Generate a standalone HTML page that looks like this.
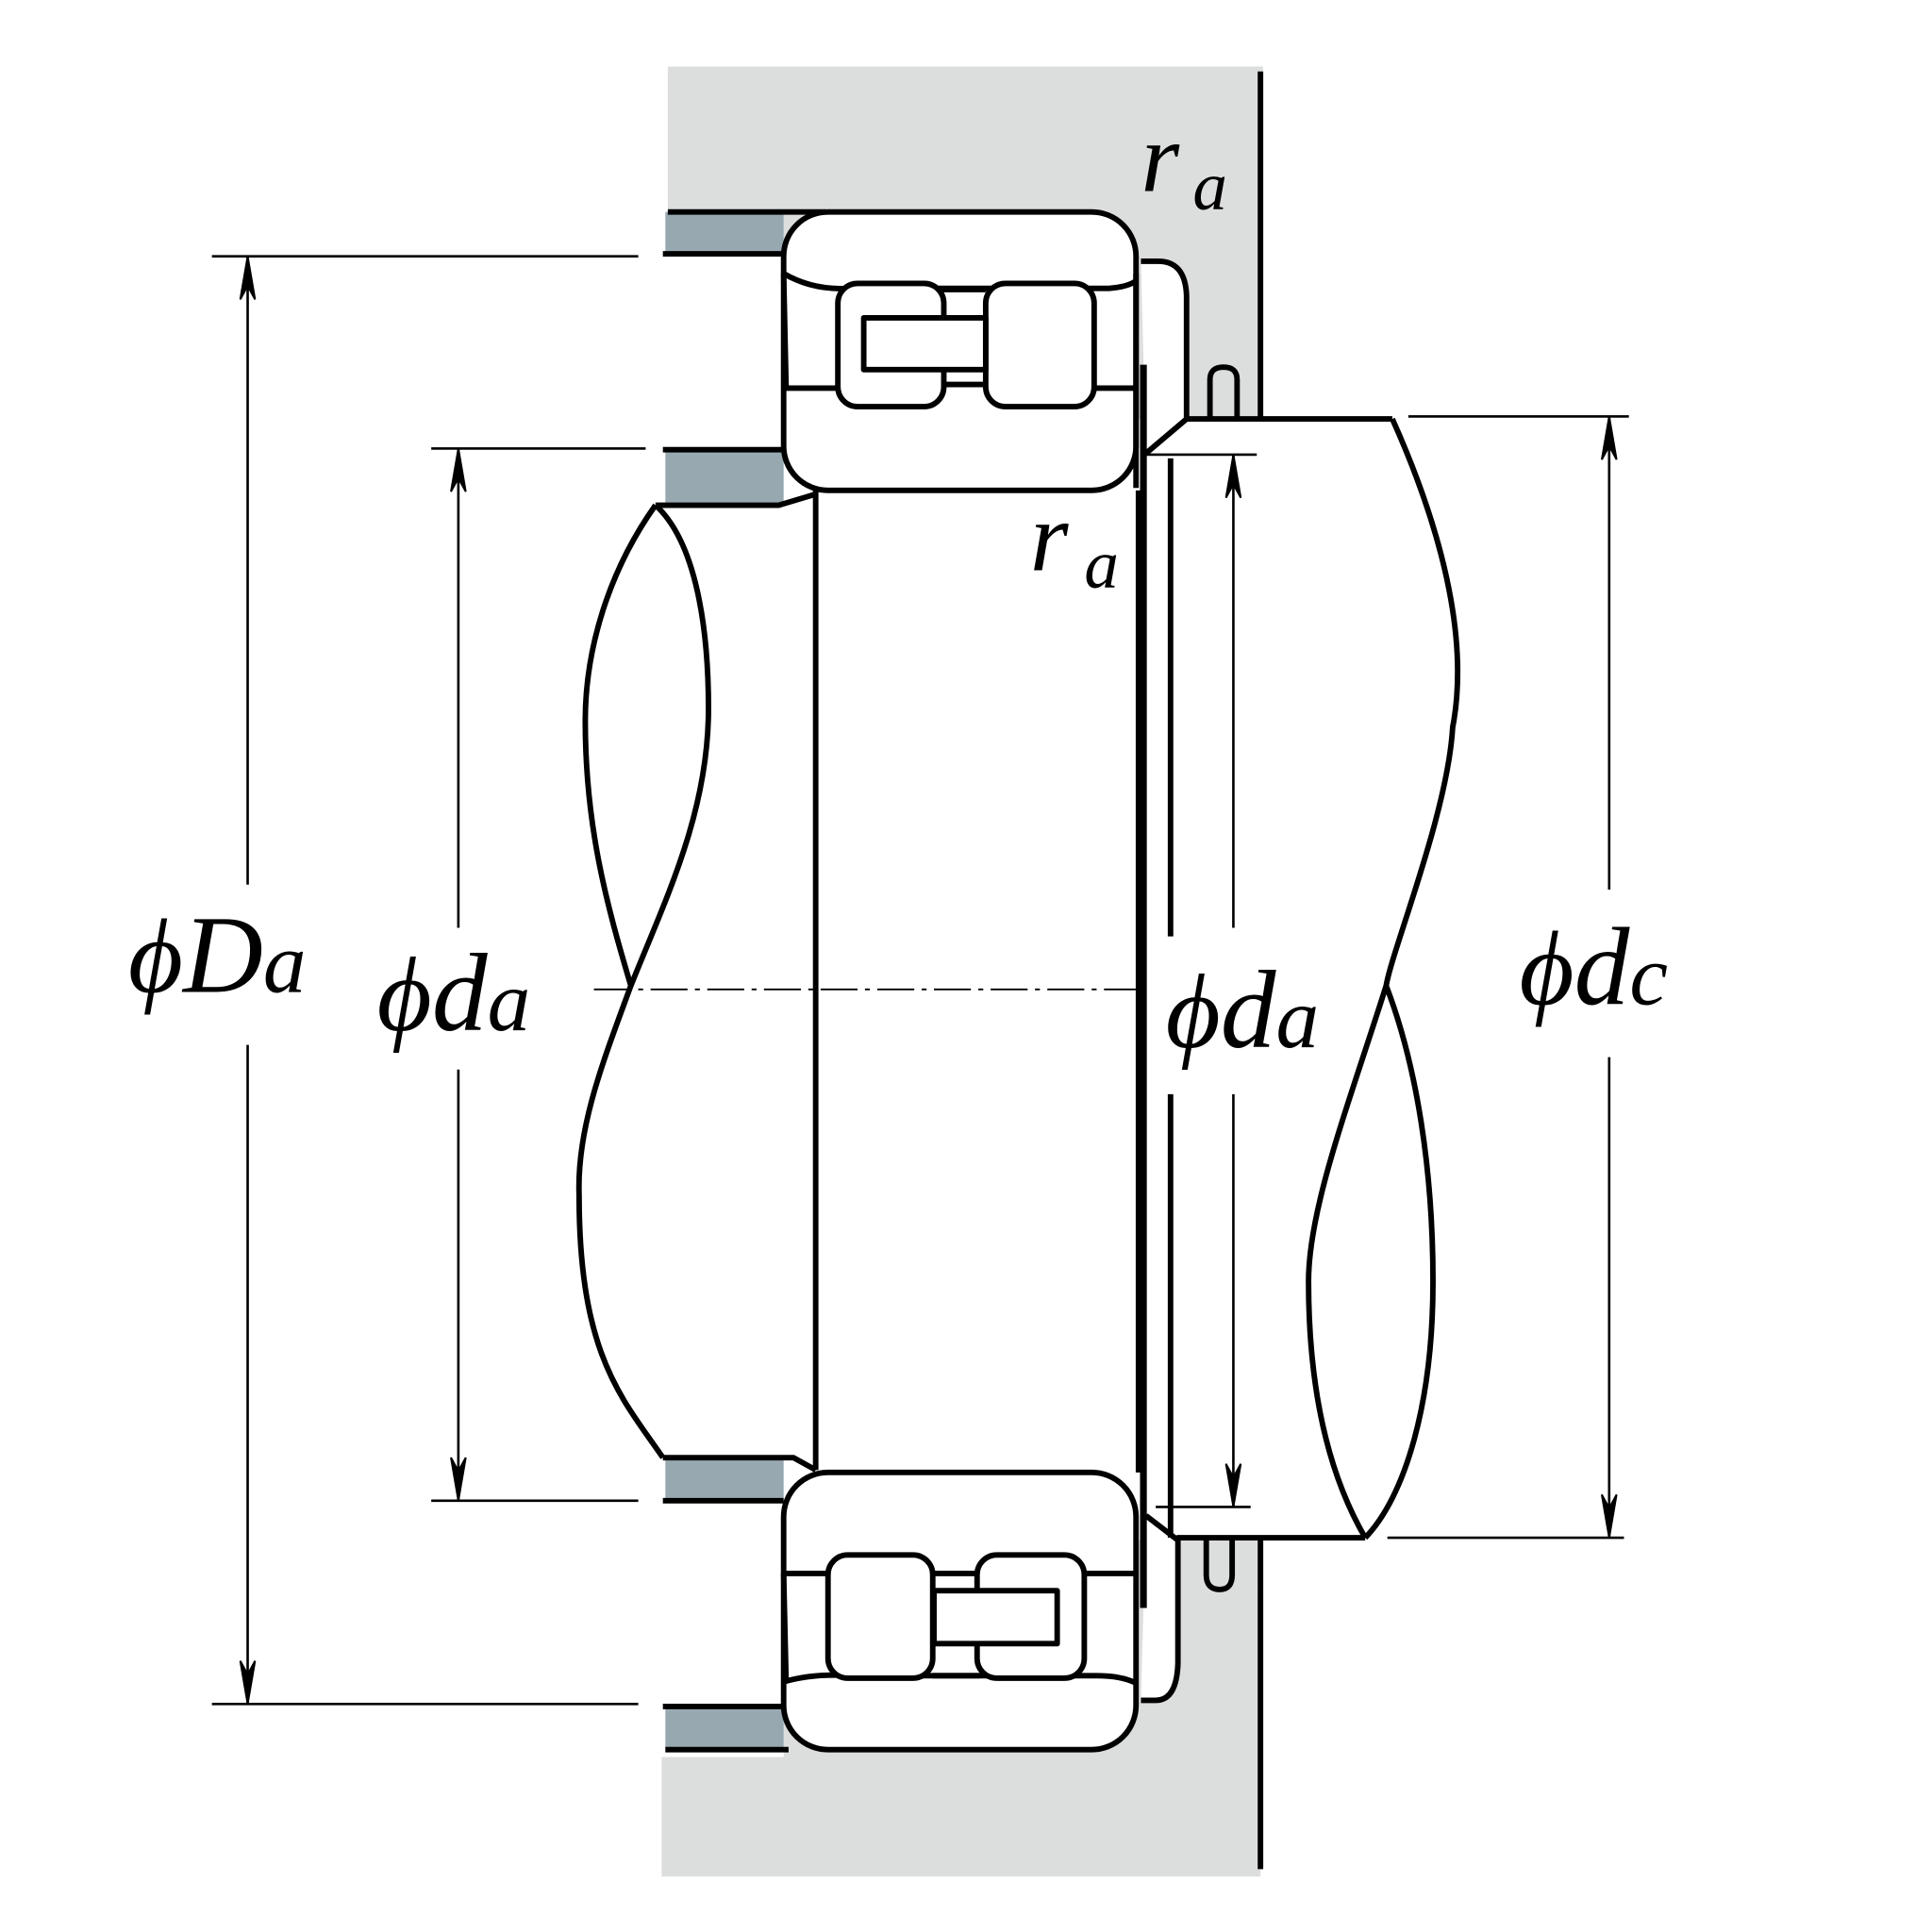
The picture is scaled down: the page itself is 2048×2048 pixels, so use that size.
<!DOCTYPE html>
<html><head><meta charset="utf-8"><style>html,body{margin:0;padding:0;background:#fff}svg{display:block}</style></head><body>
<svg width="2048" height="2048" viewBox="0 0 1568 1568" xmlns="http://www.w3.org/2000/svg">
<g fill="#dcdedd">
<rect x="542" y="54" width="483" height="120"/>
<rect x="636" y="170" width="387" height="170"/>
<rect x="537" y="1426" width="486" height="97"/>
<rect x="636" y="1250" width="387" height="178"/>
</g>
<g fill="#97a8b1">
<rect x="540" y="172" width="96" height="34"/>
<rect x="540" y="366" width="96" height="42"/>
<rect x="540" y="1185" width="96" height="31"/>
<rect x="540" y="1385" width="96" height="34"/>
</g>
<g fill="none" stroke="#000" stroke-width="4.5" stroke-linejoin="round">
<path d="M542 172H670M538 206H636M538 365H636M532 410H632L662 401M538 1183H644L662 1193M538 1218H636M538 1385H636M540 1420H640"/>
<rect x="636" y="172" width="286" height="226" rx="36" fill="#fff"/>
<path d="M636 222Q660 236 690 234H900Q915 233 922 228" />
<path d="M636 222L638 315M636 315H680M888 315H922M765 312H800M765 235H800M922 222V396"/>
<rect x="680" y="230" width="86" height="100" rx="16" fill="#fff"/>
<rect x="800" y="230" width="88" height="100" rx="16" fill="#fff"/>
<rect x="701" y="258" width="99" height="42" fill="#fff"/>
<path d="M926 212H940Q962 212 963 240V340L930 368" fill="#fff"/>
<path d="M962 340H1130M982 338V308Q982 298 993 298Q1004 298 1004 308V338M1023 58V338"/>
<rect x="636" y="1195" width="286" height="225" rx="36" fill="#fff"/>
<path d="M636 1365Q660 1358 690 1360H890Q910 1360 922 1366"/>
<path d="M636 1277L638 1365M636 1277H672M757 1277H795M880 1277H922M757 1360H795"/>
<rect x="672" y="1262" width="85" height="100" rx="16" fill="#fff"/>
<rect x="793" y="1262" width="87" height="100" rx="16" fill="#fff"/>
<rect x="758" y="1291" width="100" height="43" fill="#fff"/>
<path d="M926 1380H938Q955 1380 956 1350V1250L930 1230" fill="#fff"/>
<path d="M955 1248H1108M979 1250V1278Q979 1290 990 1290Q1000 1290 1000 1278V1250M1023 1250V1517"/>
<path d="M662 398V1193M924 398V1195"/>
<path d="M928 296V1305" stroke-width="5.5"/>
<path d="M950 372V760M950 888V1248"/>
<path d="M532 410C495 462 475 525 475 585C475 670 492 733 512 800C490 860 468 915 470 970C470 1100 505 1135 538 1183"/>
<path d="M532 410C565 440 575 510 575 575C575 660 540 730 512 800"/>
<path d="M1130 340C1165 418 1183 488 1183 545C1183 565 1181 580 1179 590C1175 660 1130 770 1125 800C1095 895 1062 980 1062 1040C1062 1140 1083 1205 1108 1248"/>
<path d="M1125 800C1150 865 1163 950 1163 1040C1163 1140 1140 1215 1108 1248"/>
</g>
<path d="M482 803H922" stroke="#000" stroke-width="1.5" stroke-dasharray="30 6 4 6" fill="none"/>
<g stroke="#000" stroke-width="2" fill="none">
<path d="M172 208H518M172 1383H518M201 208V718M201 848V1383"/>
<path d="M350 364H524M350 1218H518M372 364V753M372 868V1218"/>
<path d="M930 369H1020M938 1223H1015M1001 369V753M1001 888V1223"/>
<path d="M1143 338H1322M1126 1248H1318M1306 338V722M1306 858V1248"/>
</g>
<g fill="#000" stroke="#000" stroke-width="1.5">
<path d="M201 208L195 243L201 232L207 243Z"/>
<path d="M201 1383L195 1348L201 1359L207 1348Z"/>
<path d="M372 364L366 399L372 388L378 399Z"/>
<path d="M372 1218L366 1183L372 1194L378 1183Z"/>
<path d="M1001 369L995 404L1001 393L1007 404Z"/>
<path d="M1001 1223L995 1188L1001 1199L1007 1188Z"/>
<path d="M1306 338L1300 373L1306 362L1312 373Z"/>
<path d="M1306 1248L1300 1213L1306 1224L1312 1213Z"/>
</g>
<g font-family="Liberation Serif, DejaVu Serif, serif" font-style="italic" fill="#000">
<text x="104" y="805" font-size="86">ϕ<tspan font-size="90">D</tspan><tspan font-size="70">a</tspan></text>
<text x="306" y="836" font-size="86">ϕ<tspan font-size="90">d</tspan><tspan font-size="70">a</tspan></text>
<text x="946" y="850" font-size="86">ϕ<tspan font-size="90">d</tspan><tspan font-size="70">a</tspan></text>
<text x="1233" y="815" font-size="86">ϕ<tspan font-size="90">d</tspan><tspan font-size="70">c</tspan></text>
<text x="926" y="155" font-size="80">r</text><text x="968" y="170" font-size="56">a</text>
<text x="836" y="463" font-size="80">r</text><text x="880" y="477" font-size="56">a</text>
</g>
</svg>
</body></html>
